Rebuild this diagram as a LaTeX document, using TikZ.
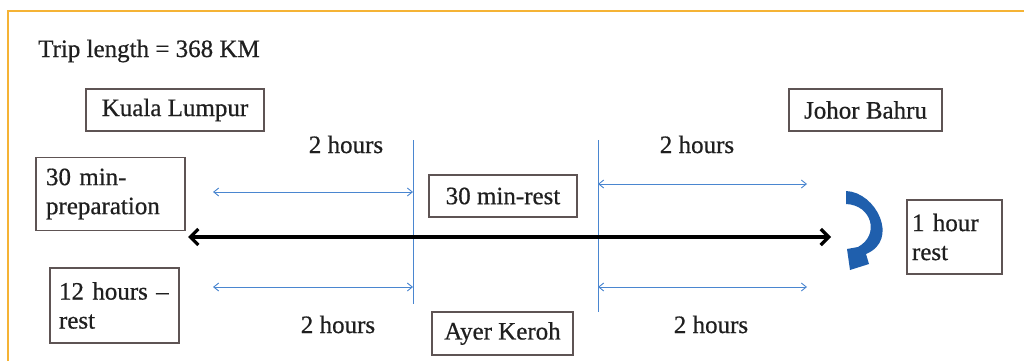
\documentclass[tikz,border=0pt]{standalone}
\usepackage{fontspec}
\setmainfont{Liberation Serif}[FakeBold=0.6]
\usetikzlibrary{arrows.meta}
\definecolor{frameorange}{HTML}{F5B335}
\definecolor{boxgray}{HTML}{5E5454}
\definecolor{lineblue}{HTML}{4A86D0}
\definecolor{turnblue}{HTML}{1F5FAD}
\begin{document}
\begin{tikzpicture}[x=1pt,y=-1pt,
  lbl/.style={font=\fontsize{25}{29}\selectfont, inner sep=0pt, text=black!88},
  place/.style={lbl, draw=boxgray, line width=1.1pt, inner ysep=5pt},
  listbox/.style={place, align=left, text width=#1},
  span/.style={draw=lineblue, line width=0.9pt, {Straight Barb[length=5pt,width=8pt]}-{Straight Barb[length=5pt,width=8pt]}},
  stopline/.style={draw=lineblue, line width=0.9pt},
  route/.style={draw=black, line width=3.2pt, {Straight Barb[length=8pt,width=16pt]}-{Straight Barb[length=8pt,width=16pt]}}]
\useasboundingbox (0,0) rectangle (1024,361);
\fill[white] (0,0) rectangle (1024,361);
% frame
\draw[frameorange, line width=1.5pt] (8,361) -- (8,11) -- (1024,11);

% title
\node[lbl, anchor=base west] (title) at (38,57) {Trip length = 368 KM};

% places and rest stops
\node[place, minimum width=178pt, minimum height=42pt] (kl) at (175,110) {Kuala Lumpur};
\node[place, minimum width=153pt, minimum height=42pt] (jb) at (865.5,110) {Johor Bahru};
\node[listbox=129pt, inner xsep=10pt, minimum height=73pt] (prep) at (110.5,194) {30 min-\\preparation};
\node[listbox=111pt, inner xsep=9pt, minimum height=75pt] (night) at (114.5,305.5) {\mbox{12 hours –}\\rest};
\node[place, minimum width=148pt, minimum height=42pt] (midrest) at (503,196) {30 min-rest};
\node[place, minimum width=141pt, minimum height=43pt] (ak) at (502.5,333.5) {Ayer Keroh};
\node[listbox=85pt, inner xsep=5pt, minimum height=74pt] (endrest) at (954.5,237) {1 hour\\rest};

% duration labels
\node[lbl, anchor=base] (t1) at (346,153) {2 hours};
\node[lbl, anchor=base] (t2) at (697,153) {2 hours};
\node[lbl, anchor=base] (t3) at (338,333) {2 hours};
\node[lbl, anchor=base] (t4) at (711,333) {2 hours};

% stop markers
\coordinate (m1top) at (413.5,140);
\coordinate (m1bot) at (413.5,304);
\coordinate (m2top) at (598,140);
\coordinate (m2bot) at (598,312);
\draw[stopline] (m1top) -- (m1bot);
\draw[stopline] (m2top) -- (m2bot);

% leg spans
\coordinate (a1l) at (213,192);
\coordinate (a1r) at (413,192);
\coordinate (a2l) at (213,287);
\coordinate (a2r) at (413,287);
\coordinate (b1l) at (598,184);
\coordinate (b1r) at (807,184);
\coordinate (b2l) at (598,287);
\coordinate (b2r) at (807,287);
\draw[span] (a1l) -- (a1r);
\draw[span] (a2l) -- (a2r);
\draw[span] (b1l) -- (b1r);
\draw[span] (b2l) -- (b2r);

% main route
\coordinate (rs) at (188,237);
\coordinate (re) at (831,237);
\draw[route] (rs) -- (re);

% turnaround
\fill[turnblue] (846,191) .. controls (876,192) and (900,240) .. (866,254)
  -- (869,264) -- (850,270) -- (847,249) -- (858,247)
  .. controls (880,235) and (872,205) .. (846,204) -- cycle;
\end{tikzpicture}
\end{document}
